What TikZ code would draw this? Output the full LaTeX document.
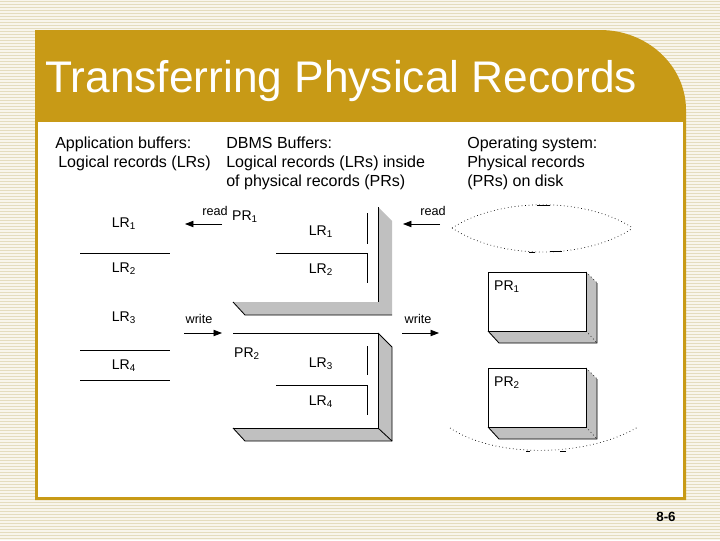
\documentclass[tikz,border=0pt]{standalone}
\usepackage{fontspec}
\setmainfont{Liberation Sans}
\usepackage{xcolor}
\usepackage{tikz}
\usetikzlibrary{arrows.meta}

\definecolor{gold}{RGB}{200,154,22}
\definecolor{stripe}{RGB}{228,220,190}
\definecolor{paper}{RGB}{248,245,236}
\definecolor{boxgray}{RGB}{192,192,192}

\newcommand{\LRsub}[1]{LR\textsubscript{#1}}
\newcommand{\PRsub}[1]{PR\textsubscript{#1}}

\tikzset{
	hdr/.style  = {font=\fontsize{11.4}{13}\selectfont, anchor=base west, inner sep=0pt},
	lbl/.style  = {font=\fontsize{10}{12}\selectfont, inner sep=0pt},
	act/.style  = {font=\fontsize{9}{11}\selectfont, inner sep=0pt},
	arr/.style  = {-{Triangle[length=6pt,width=4.5pt]}, line width=0.6pt},
	rec/.style  = {line width=0.6pt},
	disk/.style = {dotted, line width=0.5pt},
}

\begin{document}
\begin{tikzpicture}[x=0.025cm, y=-0.025cm]
	\useasboundingbox (0,0) rectangle (720,540);
	% striped backdrop
	\fill[paper] (0,0) rectangle (720,540);
	\foreach \k in {0,...,179}
		\draw[stripe, line width=0.7pt] (0,3*\k+1) -- (720,3*\k+1);
	% frame
	\fill[gold] (35,500) -- (35,30) -- (600,30)
		.. controls (647.5,30) and (686,65.8) .. (686,110) -- (686,500) -- cycle;
	\fill[white] (38,122) rectangle (683,497);
	\node[anchor=base west, inner sep=0pt, text=white,
		font=\fontsize{31.5}{35}\selectfont] (title) at (45,92) {Transferring Physical Records};
	\node[font=\bfseries\fontsize{9.5}{11}\selectfont] (pgno) at (666,517) {8-6};

	% column heads
	\node[hdr] (appA) at (55,148)  {Application buffers:};
	\node[hdr] (appB) at (58,167)  {Logical records (LRs)};
	\node[hdr] (dbA)  at (226,148) {DBMS Buffers:};
	\node[hdr] (dbB)  at (226,167) {Logical records (LRs) inside};
	\node[hdr] (dbC)  at (226,186) {of physical records (PRs)};
	\node[hdr] (osA)  at (467,148) {Operating system:};
	\node[hdr] (osB)  at (467,167) {Physical records};
	\node[hdr] (osC)  at (467,186) {(PRs) on disk};

	% application buffers
	\node[lbl] (appLR1) at (124,224) {\LRsub{1}};
	\node[lbl] (appLR2) at (124,269) {\LRsub{2}};
	\node[lbl] (appLR3) at (124,318) {\LRsub{3}};
	\node[lbl] (appLR4) at (124,366) {\LRsub{4}};
	\draw[rec] (80,253) -- (170,253);
	\draw[rec] (80,350) -- (170,350);
	\draw[rec] (80,380) -- (170,380);

	% DBMS buffer PR1
	\fill[boxgray] (378,207) -- (392,221) -- (392,315) -- (245,315) -- (233,302) -- (378,302) -- cycle;
	\draw[rec] (378,207) -- (378,302);
	\draw[rec] (233,302) -- (245,315) -- (392,315);
	\node[lbl] (dbPR1) at (245,217) {\PRsub{1}};
	\node[lbl] (dbLR1) at (321,232) {\LRsub{1}};
	\node[lbl] (dbLR2) at (321,270) {\LRsub{2}};
	\draw[rec] (367,213) -- (367,244);
	\draw[rec] (276,253) -- (367,253) -- (367,283);

	% DBMS buffer PR2
	\fill[boxgray] (378,333) -- (392,347) -- (392,441) -- (245,441) -- (233,428) -- (378,428) -- cycle;
	\draw[rec] (233,333) -- (378,333) -- (378,428) -- (233,428);
	\draw[rec] (378,333) -- (392,347) -- (392,441) -- (245,441) -- (233,428);
	\draw[rec] (378,428) -- (392,441);
	\node[lbl] (dbPR2) at (247,354) {\PRsub{2}};
	\node[lbl] (dbLR3) at (321,364) {\LRsub{3}};
	\node[lbl] (dbLR4) at (321,402) {\LRsub{4}};
	\draw[rec] (367,346) -- (367,375);
	\draw[rec] (276,385) -- (367,385) -- (367,415);

	% transfers
	\coordinate (rdLa) at (222,224);  \coordinate (rdLb) at (185,224);
	\coordinate (wrLa) at (184,333);  \coordinate (wrLb) at (222,333);
	\coordinate (rdRa) at (440,224);  \coordinate (rdRb) at (403,224);
	\coordinate (wrRa) at (402,333);  \coordinate (wrRb) at (439,333);
	\draw[arr] (rdLa) -- (rdLb);
	\draw[arr] (wrLa) -- (wrLb);
	\draw[arr] (rdRa) -- (rdRb);
	\draw[arr] (wrRa) -- (wrRb);
	\node[act] (rdL) at (215,211) {read};
	\node[act] (wrL) at (199,319) {write};
	\node[act] (rdR) at (433,211) {read};
	\node[act] (wrR) at (418,319) {write};

	% disk
	\draw[disk] (452,228) .. controls (500,197) and (585,197) .. (633,228);
	\draw[disk] (452,228) .. controls (500,260) and (585,260) .. (633,228);
	\draw[rec] (537,205) -- (550,205);
	\draw[rec] (529,252) -- (535,252);
	\draw[rec] (550,251) -- (562,251);
	\draw[disk] (450,428) .. controls (495,458) and (585,458) .. (638,427);
	\draw[rec] (526,451) -- (530,451);
	\draw[rec] (560,451) -- (566,451);

	% physical records on disk
	\foreach \t/\n in {272/1,368/2} {
		\fill[boxgray] (586,\t) -- (597,\t+11) -- (597,\t+71) -- (499,\t+71) -- (488,\t+59) -- (586,\t+59) -- cycle;
		\draw[rec] (488,\t) rectangle (586,\t+59);
		\draw[rec] (488,\t+59) -- (499,\t+71) -- (597,\t+71) -- (597,\t+11);
		\draw[disk] (586,\t) -- (597,\t+11);
		\draw[disk] (586,\t+59) -- (597,\t+71);
		\node[lbl] (osPR\n) at (507,\t+15) {\PRsub{\n}};
	}
\end{tikzpicture}
\end{document}
